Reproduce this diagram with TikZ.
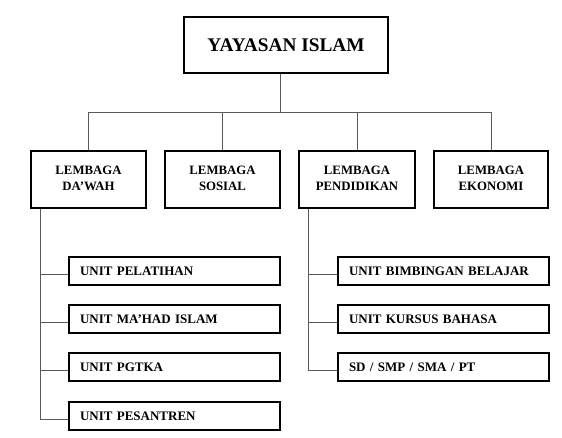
\documentclass[tikz,border=0pt]{standalone}
\usepackage{fontspec}
\setmainfont{Liberation Serif}
\tikzset{
  box/.style={draw=black, line width=1.8pt, fill=white, font=\bfseries},
  topbox/.style={box, minimum width=204pt, minimum height=56pt, font=\bfseries\fontsize{19.3}{23}\selectfont},
  lvlbox/.style={box, minimum height=57pt, inner sep=0pt, font=\bfseries\fontsize{12.8}{16}\selectfont},
  unitbox/.style={box, minimum height=28pt, text width=189pt, inner xsep=11pt, inner ysep=0pt, align=left, font=\bfseries\fontsize{13}{15}\selectfont},
  conn/.style={draw=black!65, line width=0.9pt}
}
\newcommand{\twolines}[2]{\raisebox{6.5pt}{\begin{tabular}{@{}c@{}}#1\\#2\end{tabular}}}
\begin{document}
\begin{tikzpicture}[x=1pt,y=1pt]
\useasboundingbox[fill=white] (0,0) rectangle (562,-438);
% top
\node[topbox] (top) at (286,-45) {YAYASAN ISLAM};
% level 2
\node[lvlbox, minimum width=115pt] (l1) at (88.5,-179.5) {\twolines{LEMBAGA}{DA’WAH}};
\node[lvlbox, minimum width=115pt] (l2) at (222.5,-179.5) {\twolines{LEMBAGA}{SOSIAL}};
\node[lvlbox, minimum width=116pt] (l3) at (357,-179.5) {\twolines{LEMBAGA}{PENDIDIKAN}};
\node[lvlbox, minimum width=114pt] (l4) at (491,-179.5) {\twolines{LEMBAGA}{EKONOMI}};
% units left
\node[unitbox] (u1) at (174.5,-271) {UNIT PELATIHAN};
\node[unitbox] (u2) at (174.5,-319) {UNIT MA’HAD ISLAM};
\node[unitbox] (u3) at (174.5,-367) {UNIT PGTKA};
\node[unitbox] (u4) at (174.5,-416) {UNIT PESANTREN};
% units right
\node[unitbox] (r1) at (443.5,-271) {UNIT BIMBINGAN BELAJAR};
\node[unitbox] (r2) at (443.5,-319) {UNIT KURSUS BAHASA};
\node[unitbox] (r3) at (443.5,-367) {SD / SMP / SMA / PT};
% top connectors
\coordinate (tb) at ([xshift=-6pt]top.south);
\coordinate (bus) at ([yshift=-39pt]tb);
\draw[conn] (tb) -- (bus);
\draw[conn] (l1.north) |- (l4.north |- bus) -- (l4.north);
\draw[conn] (l2.north) -- (l2.north |- bus);
\draw[conn] (l3.north) -- (l3.north |- bus);
% left spine
\coordinate (sp1) at ([xshift=10pt]l1.south west);
\coordinate (b1) at ([yshift=-3pt]u1.west);
\coordinate (b2) at ([yshift=-3pt]u2.west);
\coordinate (b3) at ([yshift=-3pt]u3.west);
\coordinate (b4) at ([yshift=-3pt]u4.west);
\draw[conn] (sp1) -- (sp1 |- b4) -- (b4);
\draw[conn] (b1 -| sp1) -- (b1);
\draw[conn] (b2 -| sp1) -- (b2);
\draw[conn] (b3 -| sp1) -- (b3);
% right spine
\coordinate (sp2) at ([xshift=10pt]l3.south west);
\coordinate (c1) at ([yshift=-3pt]r1.west);
\coordinate (c2) at ([yshift=-3pt]r2.west);
\coordinate (c3) at ([yshift=-3pt]r3.west);
\draw[conn] (sp2) -- (sp2 |- c3) -- (c3);
\draw[conn] (c1 -| sp2) -- (c1);
\draw[conn] (c2 -| sp2) -- (c2);
\end{tikzpicture}
\end{document}
